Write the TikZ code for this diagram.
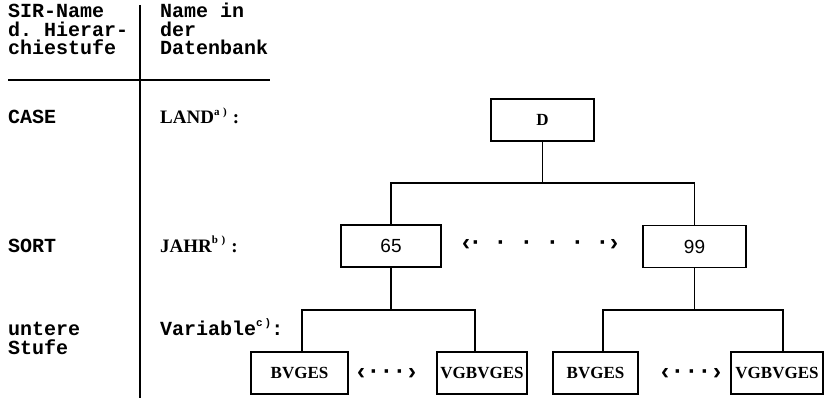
\documentclass[tikz,border=0pt]{standalone}
\usepackage{fontspec}
\setmainfont{Liberation Serif}
\setmonofont{Liberation Mono}
\newfontfamily\sansfam{Liberation Sans}
% small raised footnote marks after the database names
\newcommand\supnote[1]{\raisebox{0.45em}{\fontsize{11}{11}\selectfont #1}}
\begin{document}
\begin{tikzpicture}[x=1pt,y=-1pt,
  rule/.style={line width=1.4pt},
  conn/.style={line width=1.4pt},
  mono/.style={font=\fontsize{20}{20}\selectfont\ttfamily\bfseries, inner sep=0pt, anchor=base west},
  lbl/.style={font=\fontsize{19}{19}\selectfont\rmfamily\bfseries, inner sep=0pt, anchor=base west},
  box/.style={draw, line width=1.4pt, inner sep=0pt, minimum height=42pt},
  numbox/.style={box, font=\fontsize{19}{19}\selectfont\sansfam},
  varbox/.style={box, font=\fontsize{17}{17}\selectfont\rmfamily\bfseries},
  dotg/.style={font=\fontsize{24}{24}\selectfont\sansfam\bfseries, inner sep=0pt, anchor=base}]
\useasboundingbox (0,0) rectangle (833,401);

% table head
\node[mono] (h1) at (8,18)   {SIR-Name};
\node[mono] (h2) at (8,36.5) {d. Hierar-};
\node[mono] (h3) at (8,55)   {chiestufe};
\node[mono] (h4) at (160,18)   {Name in};
\node[mono] (h5) at (160,36.5) {der};
\node[mono] (h6) at (160,55)   {Datenbank};
\draw[rule] (8,80) -- (270,80);
\draw[rule] (140,5) -- (140,398);

% level names
\node[mono] (lvA) at (8,124) {CASE};
\node[mono] (lvB) at (8,252) {SORT};
\node[mono] (lvC) at (8,335) {untere};
\node[mono] (lvD) at (8,354) {Stufe};
\node[lbl]  (dbA) at (160,124) {LAND\supnote{a\,\,)}\hspace{6pt}:};
\node[lbl]  (dbB) at (160,252) {JAHR\supnote{b\,\,)}\hspace{6pt}:};
\node[mono] (dbC) at (160,335) {Variable\supnote{c\,)}:};

% tree boxes
\node[varbox, minimum width=103pt] (D)   at (542.5,120) {D};
\node[numbox, minimum width=100pt] (n65) at (391,246)   {65};
\node[numbox, minimum width=103pt] (n99) at (694.5,246.5) {99};
\node[varbox, minimum width=97pt]  (bvA) at (299.5,373) {BVGES};
\node[varbox, minimum width=90pt]  (vgA) at (482,373)   {VGBVGES};
\node[varbox, minimum width=85pt]  (bvB) at (595.5,373) {BVGES};
\node[varbox, minimum width=92pt]  (vgB) at (777,373)   {VGBVGES};

% bus lines of the tree
\coordinate (busA) at (0,183);
\coordinate (busB) at (0,310);
\draw[conn] (D.south) -- (D.south |- busA);
\draw[conn] (n65.north) -- (n65.north |- busA) -- (n99.north |- busA) -- (n99.north);
\draw[conn] (n65.south) -- (n65.south |- busB);
\draw[conn] (n99.south) -- (n99.south |- busB);
\draw[conn] ([xshift=2.5pt]bvA.north) -- ([xshift=2.5pt]bvA.north |- busB)
   -- ([xshift=-7pt]vgA.north |- busB) -- ([xshift=-7pt]vgA.north);
\draw[conn] ([xshift=7.5pt]bvB.north) -- ([xshift=7.5pt]bvB.north |- busB)
   -- ([xshift=6pt]vgB.north |- busB) -- ([xshift=6pt]vgB.north);

% ellipses between siblings
\node[dotg] (mL) at (466,250) {‹};
\foreach \x [count=\i] in {476,501,527,553,578,603}
  \node[dotg] (md\i) at (\x,250) {·};
\node[dotg] (mR) at (614,250) {›};

\node[dotg] (aL) at (361,379) {‹};
\foreach \x [count=\i] in {374,387,400}
  \node[dotg] (ad\i) at (\x,379) {·};
\node[dotg] (aR) at (412,379) {›};

\node[dotg] (bL) at (665,379) {‹};
\foreach \x [count=\i] in {678,692,705}
  \node[dotg] (bd\i) at (\x,379) {·};
\node[dotg] (bR) at (717,379) {›};
\end{tikzpicture}
\end{document}
